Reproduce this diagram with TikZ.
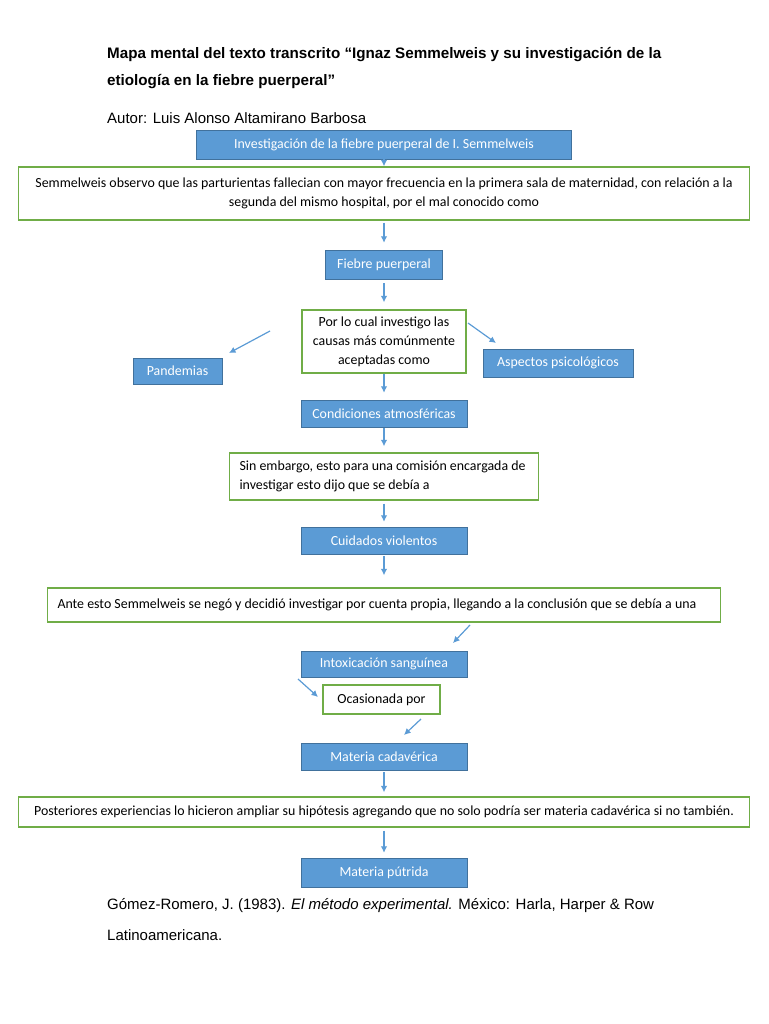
\documentclass[tikz,border=0pt]{standalone}
\usepackage{fontspec}
\setmainfont{Carlito}
\newfontfamily\arialfont{Liberation Sans}
\usetikzlibrary{arrows.meta}
\definecolor{boxblue}{RGB}{91,155,213}
\definecolor{boxedge}{RGB}{65,113,156}
\definecolor{boxgreen}{RGB}{112,173,71}

\begin{document}
\begin{tikzpicture}[x=1pt, y=-1pt,
    bluebox/.style={draw=boxedge, fill=boxblue, text=white, inner sep=0pt, font=\fontsize{13.9}{16}\selectfont},
    greenbox/.style={draw=boxgreen, line width=1.3pt, fill=white, inner sep=0pt, font=\fontsize{13.9}{19}\selectfont},
    headtext/.style={anchor=west, inner sep=0pt, font=\arialfont\fontsize{15}{17}\selectfont},
    arr/.style={-{Latex[length=6.5pt,width=6.5pt]}, draw=boxblue, line width=1.2pt}]
    \useasboundingbox (0,0) rectangle (768,1024);

    % header
    \node[headtext, font=\arialfont\bfseries\fontsize{15.2}{17}\selectfont] (title1) at (107,55) {Mapa mental del texto transcrito “Ignaz Semmelweis y su investigación de la};
    \node[headtext, font=\arialfont\bfseries\fontsize{15.2}{17}\selectfont] (title2) at (107,82) {etiología en la fiebre puerperal”};
    \node[headtext] (autor) at (107,118) {Autor: Luis Alonso Altamirano Barbosa};

    % main column
    \node[bluebox, minimum width=375, minimum height=29] (inv) at (384,144.5) {Investigación de la fiebre puerperal de I. Semmelweis};
    \node[greenbox, minimum width=731, minimum height=53, align=center] (semmel) at (384,193.5)
        {Semmelweis observo que las parturientas fallecian con mayor frecuencia en la primera sala de maternidad, con relación a la\\segunda del mismo hospital, por el mal conocido como};
    \node[bluebox, minimum width=117, minimum height=29] (fiebre) at (384,264.5) {Fiebre puerperal};
    \node[greenbox, minimum width=164, minimum height=63, align=center] (causas) at (384,341.5)
        {Por lo cual investigo las\\causas más comúnmente\\aceptadas como};
    \node[bluebox, minimum width=89, minimum height=26] (pandemias) at (177.5,371) {Pandemias};
    \node[bluebox, minimum width=150, minimum height=28] (aspectos) at (558,363) {Aspectos psicológicos};
    \node[bluebox, minimum width=166, minimum height=27] (condiciones) at (384,413.5) {Condiciones atmosféricas};
    \node[greenbox, minimum width=309, minimum height=47, align=flush left, text width=289] (sinembargo) at (384,476.5)
        {Sin embargo, esto para una comisión encargada de\\investigar esto dijo que se debía a};
    \node[bluebox, minimum width=166, minimum height=27] (cuidados) at (384,540.5) {Cuidados violentos};
    \node[greenbox, minimum width=673, minimum height=34, align=flush left, text width=653] (anteesto) at (384,605)
        {Ante esto Semmelweis se negó y decidió investigar por cuenta propia, llegando a la conclusión que se debía a una};
    \node[bluebox, minimum width=166, minimum height=26] (intox) at (384,664) {Intoxicación sanguínea};
    \node[greenbox, minimum width=117, minimum height=29] (ocasionada) at (381.5,699.5) {Ocasionada por};
    \node[bluebox, minimum width=166, minimum height=27] (cadaverica) at (384,756.5) {Materia cadavérica};
    \node[greenbox, minimum width=731, minimum height=30] (posteriores) at (384,812)
        {Posteriores experiencias lo hicieron ampliar su hipótesis agregando que no solo podría ser materia cadavérica si no también.};
    \node[bluebox, minimum width=166, minimum height=29] (putrida) at (384,872.5) {Materia pútrida};

    % reference
    \node[headtext] (ref1) at (107,906) {Gómez-Romero, J. (1983). \textit{El método experimental.} México: Harla, Harper \& Row};
    \node[headtext] (ref2) at (107,935) {Latinoamericana.};

    % free ends of the slanted arrows
    \coordinate (pan1) at (270,331);
    \coordinate (pan2) at (229,353);
    \coordinate (asp1) at (468,323);
    \coordinate (asp2) at (496,343);
    \coordinate (int1) at (470,625);
    \coordinate (int2) at (453,643);
    \coordinate (oca1) at (298,679);
    \coordinate (oca2) at (318,697);
    \coordinate (cad1) at (421,719);
    \coordinate (cad2) at (404,735);

    \draw[arr] (inv) -- (semmel.north);
    \draw[arr, shorten <=2pt, shorten >=7pt] (semmel.south) -- (fiebre.north);
    \draw[arr, shorten <=4pt, shorten >=7pt] (fiebre.south) -- (causas.north);
    \draw[arr] (pan1) -- (pan2);
    \draw[arr] (asp1) -- (asp2);
    \draw[arr, shorten >=7pt] (causas.south) -- (condiciones.north);
    \draw[arr, shorten <=1pt, shorten >=6pt] (condiciones.south) -- (sinembargo.north);
    \draw[arr, shorten <=3pt, shorten >=5pt] (sinembargo.south) -- (cuidados.north);
    \draw[arr, shorten <=2pt, shorten >=12pt] (cuidados.south) -- (anteesto.north);
    \draw[arr] (int1) -- (int2);
    \draw[arr] (oca1) -- (oca2);
    \draw[arr] (cad1) -- (cad2);
    \draw[arr, shorten <=2pt, shorten >=4pt] (cadaverica.south) -- (posteriores.north);
    \draw[arr, shorten <=3pt, shorten >=5pt] (posteriores.south) -- (putrida.north);
\end{tikzpicture}
\end{document}
